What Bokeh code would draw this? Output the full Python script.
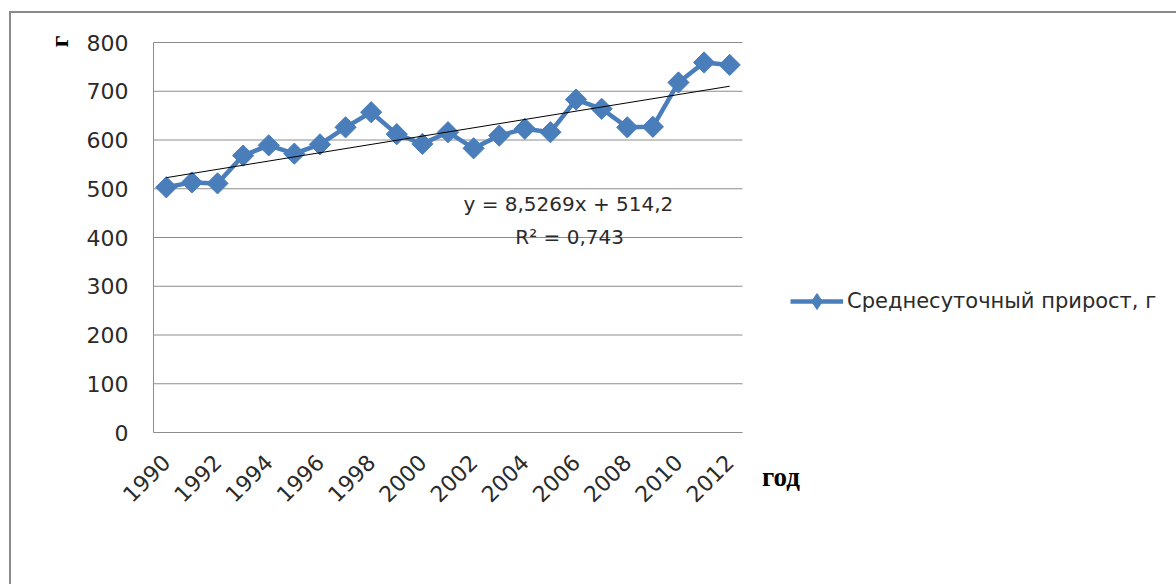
import math
from bokeh.plotting import figure
from bokeh.models import (FixedTicker, Label, Legend, LegendItem, Range1d, LinearAxis)
from bokeh.embed import file_html
from bokeh.resources import INLINE

# ---- data ----
years = list(range(1990, 2013))
gain = [503, 513, 511, 568, 589, 572, 591, 626, 657, 612, 592, 616,
        583, 609, 623, 616, 683, 664, 626, 627, 718, 759, 754]
y_ticks = [0, 100, 200, 300, 400, 500, 600, 700, 800]
x_ticks = years[::2]
trend_slope = 8.5269
trend_intercept = 514.2
series_name = "Среднесуточный прирост, г"
eq_text = "y = 8,5269x + 514,2"
r2_text = "R² = 0,743"
x_title = "год"
y_title = "г"

trend_x = [years[0], years[-1]]
trend_y = [trend_slope * (x - years[0] + 1) + trend_intercept for x in trend_x]

BLUE = "#4a7ebb"
GRID = "#8c8c8c"
FONT = "DejaVu Sans"
TXT = "#2b2b2b"

PX_X = 25.6087          # px per year
PX_Y = 0.4875           # px per unit
x_lo = years[0] - 0.5
x_hi = x_lo + (1176 - 153) / PX_X
y_hi = y_ticks[-1] + 1 / PX_Y

css = """
:host::after {
  content: "";
  position: absolute;
  left: 9px; top: 11px;
  width: 1167px; height: 573px;
  box-sizing: border-box;
  border-top: 2px solid #8a8a8a;
  border-left: 2px solid #8a8a8a;
  pointer-events: none;
}
"""

p = figure(width=1176, height=584, output_backend="svg", toolbar_location=None,
           x_range=Range1d(x_lo, x_hi), y_range=Range1d(0, y_hi),
           min_border_left=153, min_border_right=0,
           min_border_top=41, min_border_bottom=152,
           stylesheets=[css])
p.outline_line_color = None
p.background_fill_color = "white"
p.border_fill_color = "white"

p.xgrid.visible = False
p.ygrid.visible = False
p.segment(x0=[years[0] - 0.5] * len(y_ticks), x1=[years[-1] + 0.5] * len(y_ticks),
          y0=y_ticks, y1=y_ticks, line_color=GRID, line_width=1)

p.yaxis.ticker = FixedTicker(ticks=y_ticks)
p.xaxis.ticker = FixedTicker(ticks=x_ticks)
p.xaxis.bounds = (years[0] - 0.5, years[-1] + 0.5)
p.yaxis.bounds = (y_ticks[0], y_ticks[-1])
for ax in (p.xaxis, p.yaxis):
    ax.axis_line_color = GRID
    ax.axis_line_width = 1
    ax.major_tick_line_color = None
    ax.minor_tick_line_color = None
    ax.major_label_text_font = FONT
    ax.major_label_text_font_size = "22px"
    ax.major_label_text_color = TXT
p.yaxis.major_label_standoff = 19
p.xaxis.major_label_standoff = 20
p.xaxis.major_label_orientation = math.pi / 4

# y axis title (rotated, at the top end of the axis)
p.yaxis.axis_label = y_title
p.yaxis.axis_label_standoff = 10
p.yaxis.axis_label_text_font = "Liberation Serif"
p.yaxis.axis_label_text_font_style = "bold"
p.yaxis.axis_label_text_font_size = "26px"
p.yaxis.axis_label_text_color = "black"
if "axis_label_align" in LinearAxis.properties():
    p.yaxis.axis_label_align = "end"

# x axis title "год", drawn as the single label of a second bottom axis
god_axis = LinearAxis(ticker=FixedTicker(ticks=[2014]),
                      major_label_overrides={2014: x_title},
                      axis_line_color=None, major_tick_line_color=None,
                      minor_tick_line_color=None, major_label_standoff=-57,
                      major_label_orientation="horizontal",
                      major_label_text_font="Liberation Serif",
                      major_label_text_font_style="bold",
                      major_label_text_font_size="27px",
                      major_label_text_color="black")
p.add_layout(god_axis, "below")

r_line = p.line(years, gain, line_color=BLUE, line_width=4.5)
# narrow diamonds used as the legend key; fully covered by the larger markers
r_key = p.scatter(years, gain, marker="diamond", size=14,
                  fill_color=BLUE, line_color=BLUE)
r_pts = p.scatter(years, gain, marker="square", angle=math.pi / 4, size=15,
                  fill_color=BLUE, line_color=BLUE)
p.line(trend_x, trend_y, line_color="black", line_width=1)

p.add_layout(Label(x=2005.7, y=468, text=eq_text, text_font=FONT,
                   text_font_size="20px", text_color=TXT,
                   text_align="center", text_baseline="middle"))
p.add_layout(Label(x=2005.75, y=401, text=r2_text, text_font=FONT,
                   text_font_size="20px", text_color=TXT,
                   text_align="center", text_baseline="middle"))

legend = Legend(items=[LegendItem(label=series_name, renderers=[r_line, r_key])],
                location=(637, 111))
legend.glyph_width = 53
legend.glyph_height = 40
legend.label_height = 22
legend.label_standoff = 4
legend.padding = 0
legend.margin = 0
legend.border_line_color = None
legend.background_fill_alpha = 0
legend.label_text_font = FONT
legend.label_text_font_size = "21px"
legend.label_text_color = TXT
p.add_layout(legend, "center")

open("out.html", "w").write(file_html(p, INLINE))
